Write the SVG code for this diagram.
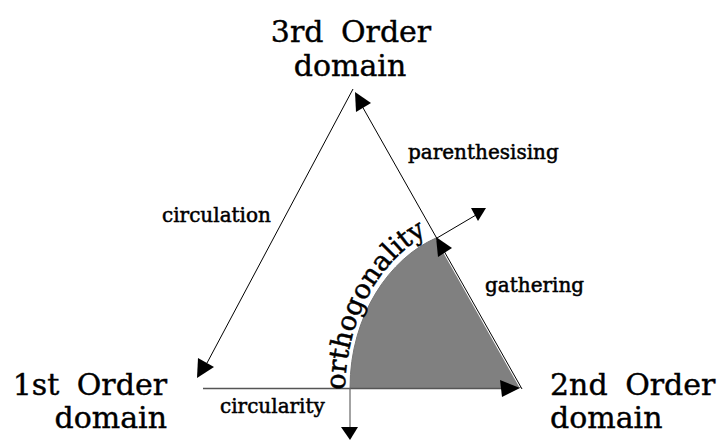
<svg xmlns="http://www.w3.org/2000/svg" width="722" height="440" viewBox="0 0 722 440">
<style>
.big{font-family:"DejaVu Serif","Liberation Serif",serif;font-size:30px;fill:#000;stroke:#000;stroke-width:0.4;word-spacing:8px}
.lbl{font-family:"DejaVu Serif","Liberation Serif",serif;font-size:20px;fill:#000;stroke:#000;stroke-width:0.5}
.ln{stroke:#000;stroke-width:1;fill:none}
.gl{stroke:#555;stroke-width:1.5;fill:none}
.ah{fill:#000;stroke:none}
</style>
<defs>
<path id="orthPath" d="M345,390 C346,312 386,252 436,230"/>
</defs>
<rect width="722" height="440" fill="#fff"/>
<g id="region">
<path d="M350,388 C350,315 390,258 436,238 L521,388 Z" fill="#808080" stroke="none"/>
<path d="M348,388 C348,314 389,256 435,236" fill="none" stroke="#fff" stroke-width="2.5"/>
<path d="M350,388 C350,315 390,258 436,238" fill="none" stroke="#777" stroke-width="1"/>
<path d="M437,240 L520,387" fill="none" stroke="#fff" stroke-width="1.5"/>
</g>
<g id="connectors">
<line class="ln" x1="353" y1="89" x2="207" y2="363"/>
<polygon class="ah" points="198,358 214,367 197,378"/>
<line class="ln" x1="362" y1="106" x2="522" y2="389"/>
<polygon class="ah" points="355,92 371,103 356,112"/>
<line class="gl" x1="203" y1="388.5" x2="505" y2="388.5"/>
<polygon class="ah" points="500,380 520,388 502,397"/>
<line x1="350" y1="388" x2="350" y2="430" stroke="#666" stroke-width="1.2"/>
<polygon class="ah" points="341,427 358,427 350,440"/>
<line class="ln" x1="437" y1="238" x2="476" y2="215"/>
<polygon class="ah" points="471,208 486,208 478,221"/>
<polygon class="ah" points="436,237 452,248 438,257"/>
</g>
<g id="node-3rd">
<text class="big" x="351" y="42" text-anchor="middle">3rd Order</text>
<text class="big" x="350" y="76" text-anchor="middle">domain</text>
</g>
<g id="node-1st">
<text class="big" x="167" y="395" text-anchor="end">1st Order</text>
<text class="big" x="167" y="428" text-anchor="end">domain</text>
</g>
<g id="node-2nd">
<text class="big" x="550" y="395">2nd Order</text>
<text class="big" x="550" y="428">domain</text>
</g>
<g id="labels">
<text class="lbl" x="162" y="222">circulation</text>
<text class="lbl" x="408" y="159">parenthesising</text>
<text class="lbl" x="485" y="292">gathering</text>
<text class="lbl" x="220" y="413">circularity</text>
<text font-family="DejaVu Serif, Liberation Serif, serif" font-size="27" fill="#000" stroke="#000" stroke-width="0.5"><textPath href="#orthPath">orthogonality</textPath></text>
</g>
</svg>
